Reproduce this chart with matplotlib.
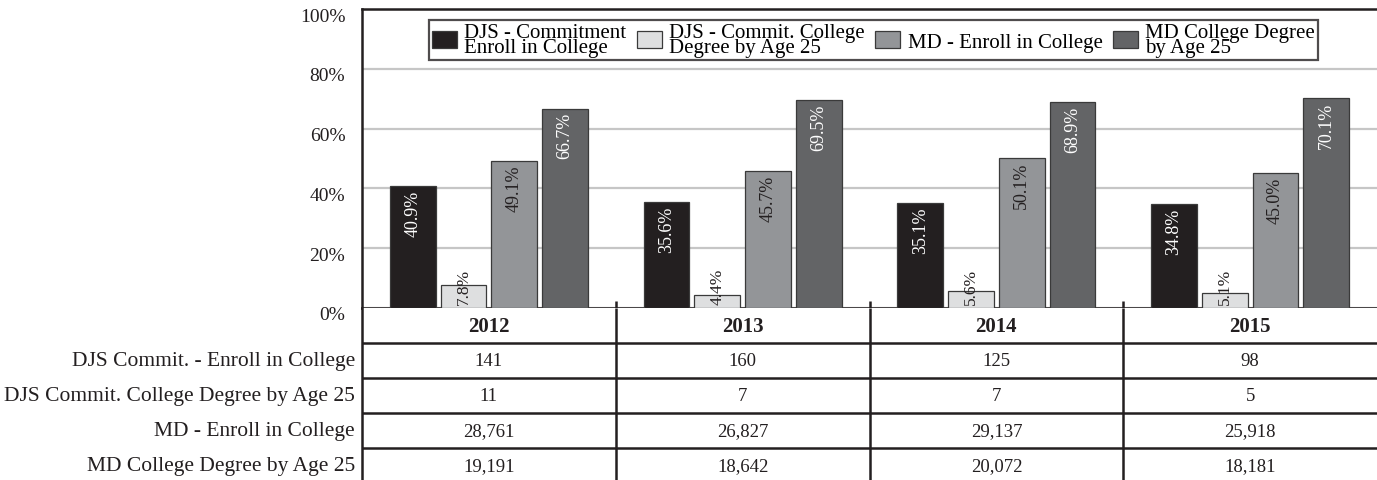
import matplotlib
matplotlib.use("Agg")
import matplotlib.pyplot as plt
import matplotlib.transforms as mtransforms
import numpy as np

plt.rcParams['font.family'] = ['Liberation Serif', 'DejaVu Serif']

# data
years = ['2012', '2013', '2014', '2015']
series_names = ['DJS - Commitment\nEnroll in College',
                'DJS - Commit. College\nDegree by Age 25',
                'MD - Enroll in College',
                'MD College Degree\nby Age 25']
djs_enroll_pct = [40.9, 35.6, 35.1, 34.8]
djs_degree_pct = [7.8, 4.4, 5.6, 5.1]
md_enroll_pct = [49.1, 45.7, 50.1, 45.0]
md_degree_pct = [66.7, 69.5, 68.9, 70.1]

row_labels = ['DJS Commit. - Enroll in College',
              'DJS Commit. College Degree by Age 25',
              'MD - Enroll in College',
              'MD College Degree by Age 25']
djs_enroll_n = ['141', '160', '125', '98']
djs_degree_n = ['11', '7', '7', '5']
md_enroll_n = ['28,761', '26,827', '29,137', '25,918']
md_degree_n = ['19,191', '18,642', '20,072', '18,181']

bar_colors = ['#231f20', '#dedfe0', '#939598', '#636466']
label_colors = ['white', '#231f20', '#231f20', 'white']

W, H = 1377, 481
fig = plt.figure(figsize=(W / 100, H / 100), dpi=100)

# bar chart axes
ax = fig.add_axes([362 / W, 1 - 309 / H, 1 - 362 / W, (309 - 10) / H])
x = np.arange(len(years))
all_pct = [djs_enroll_pct, djs_degree_pct, md_enroll_pct, md_degree_pct]
offsets = [-0.3, -0.1, 0.1, 0.3]
width = 0.181

for i, vals in enumerate(all_pct):
    ax.bar(x + offsets[i], vals, width, color=bar_colors[i], edgecolor='#3a3a3a',
           linewidth=0.9, label=series_names[i], zorder=3)
    for xi, v in zip(x, vals):
        if v < 10:
            ax.text(xi + offsets[i], 1.3, '%.1f%%' % v, rotation=90, ha='center',
                    va='bottom', color=label_colors[i], fontsize=12.5, zorder=4)
        else:
            ax.text(xi + offsets[i], v - 1.2, '%.1f%%' % v, rotation=90, ha='center',
                    va='top', color=label_colors[i], fontsize=13, zorder=4)

ax.set_xlim(-0.5, 3.5)
ax.set_ylim(0, 100)
ax.set_yticks(np.arange(0, 101, 20))
ax.set_yticklabels(['%d%%' % t for t in range(0, 101, 20)], fontsize=14)
ax.tick_params(axis='y', length=0, pad=12, colors='#231f20')
ax.set_xticks([])
ax.yaxis.grid(True, color='#c6c6c6', linewidth=1.6)
ax.set_axisbelow(True)
shift = mtransforms.ScaledTranslation(0, -0.05, fig.dpi_scale_trans)
for lab in ax.get_yticklabels():
    lab.set_transform(lab.get_transform() + shift)

ax.spines['right'].set_visible(False)
for s in ['left', 'top', 'bottom']:
    ax.spines[s].set_color('#231f20')
    ax.spines[s].set_linewidth(1.8)

# small dividers above the table
ax.vlines([0.5, 1.5, 2.5], 0, 2.4, color='#231f20', linewidth=1.8, clip_on=False)

leg = ax.legend(loc='upper center', bbox_to_anchor=(0.504, 0.963), ncol=4,
                fontsize=15, frameon=True, fancybox=False, edgecolor='#231f20',
                handlelength=1.2, handleheight=0.85, handletextpad=0.35,
                columnspacing=0.5, borderpad=0.15, borderaxespad=0)
leg.get_frame().set_linewidth(1.6)
for t in leg.get_texts():
    t.set_linespacing(0.68)

# table below the bars
tax = fig.add_axes([362 / W, 0, 1 - 362 / W, (H - 309) / H])
tax.set_xlim(-0.5, 3.5)
tax.set_ylim(4.41, -0.5)
tax.set_xticks([])
tax.set_yticks([])
for s in ['right', 'top', 'bottom']:
    tax.spines[s].set_visible(False)
tax.spines['left'].set_color('#231f20')
tax.spines['left'].set_linewidth(1.8)

tax.hlines([0.5, 1.5, 2.5, 3.5], -0.5, 3.5, color='#231f20', linewidth=1.8)
tax.vlines([0.5, 1.5, 2.5], -0.5, 4.41, color='#231f20', linewidth=1.8)

for j, yr in enumerate(years):
    tax.text(j, 0, yr, ha='center', va='center', fontsize=15, fontweight='bold',
             color='#231f20')

rows = [djs_enroll_n, djs_degree_n, md_enroll_n, md_degree_n]
for r, (name, vals) in enumerate(zip(row_labels, rows)):
    tax.text(-0.528, r + 1, name, ha='right', va='center', fontsize=15.5,
             color='#231f20', clip_on=False)
    for j, v in enumerate(vals):
        tax.text(j, r + 1, v, ha='center', va='center', fontsize=13.5, color='#231f20')

fig.savefig('out.png', dpi=100)
